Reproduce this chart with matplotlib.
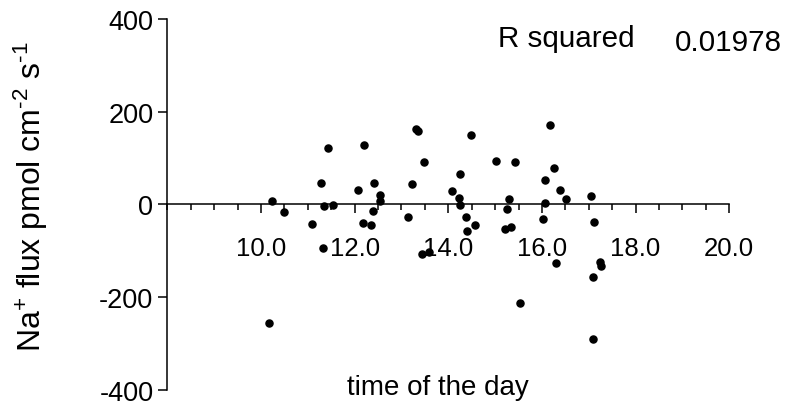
import matplotlib
matplotlib.use("Agg")
import matplotlib.pyplot as plt
from matplotlib.ticker import MultipleLocator, FixedLocator, FormatStrFormatter

plt.rcParams["font.family"] = ["Liberation Sans", "DejaVu Sans"]
plt.rcParams["mathtext.fontset"] = "custom"
plt.rcParams["mathtext.rm"] = "Liberation Sans"
plt.rcParams["mathtext.it"] = "Liberation Sans"
plt.rcParams["axes.unicode_minus"] = False

# -------- Data --------
time_of_day = [
    10.23, 10.49, 11.08, 11.28, 11.44, 11.35, 11.53, 11.32, 12.07, 12.19,
    12.17, 12.36, 12.42, 12.39, 12.54, 12.54, 13.13, 13.22, 13.31, 13.35,
    13.48, 13.44, 13.58, 14.08, 14.24, 14.23, 14.25, 14.37, 14.40, 14.57,
    14.49, 15.02, 15.43, 15.30, 15.26, 15.22, 15.34, 16.18, 16.26, 16.06,
    16.38, 16.52, 16.06, 16.03, 17.05, 17.12, 16.31, 17.23, 17.26, 17.08,
    15.54, 17.10, 10.17,
]
na_flux = [
    7, -17, -43, 47, 122, -3, -1, -95, 32, 129,
    -41, -44, 47, -14, 21, 8, -28, 44, 163, 159,
    91, -107, -103, 29, 65, 14, -1, -27, -57, -44,
    150, 94, 91, 12, -11, -54, -49, 172, 78, 53,
    30, 11, 2, -32, 19, -38, -126, -124, -134, -156,
    -213, -290, -257,
]
r_squared = "0.01978"
x_major = [10, 12, 14, 16, 18, 20]
y_major = [-400, -200, 0, 200, 400]

# -------- Plot --------
fig = plt.figure(figsize=(7.89, 4.10), dpi=100)
ax = fig.add_axes([0.212, 0.0471, 0.7123, 0.9041])

ax.scatter(time_of_day, na_flux, s=26, color="black", zorder=3, clip_on=False)

ax.set_xlim(8, 20)
ax.set_ylim(-400, 400)

# x axis drawn through y = 0
ax.spines["bottom"].set_position(("data", 0))
ax.spines["top"].set_visible(False)
ax.spines["right"].set_visible(False)
for s in ("left", "bottom"):
    ax.spines[s].set_linewidth(1.1)

ax.xaxis.set_major_locator(FixedLocator(x_major))
ax.xaxis.set_minor_locator(MultipleLocator(0.5))
ax.xaxis.set_major_formatter(FormatStrFormatter("%.1f"))
ax.yaxis.set_major_locator(FixedLocator(y_major))

ax.tick_params(axis="x", which="major", direction="out", length=6.5, width=1.1,
               labelsize=18.5, pad=16)
ax.tick_params(axis="x", which="minor", direction="out", length=4, width=1.1)
ax.tick_params(axis="y", which="major", direction="out", length=6.5, width=1.1,
               labelsize=19.5, pad=3.5)

ax.set_ylabel(r"Na$^{+}$ flux pmol cm$^{\text{-}2}$ s$^{\text{-}1}$",
              fontsize=23, va="center")
ax.yaxis.set_label_coords(-0.243, 0.5225)

ax.set_xlabel("time of the day", fontsize=20, va="baseline")
ax.xaxis.set_label_coords(0.481, -0.0116)

fig.text(0.6308, 0.8861, "R squared", fontsize=21.3, va="baseline", ha="left")
fig.text(0.8555, 0.8763, r_squared, fontsize=21.3, va="baseline", ha="left")

fig.savefig("out.png", dpi=100)
